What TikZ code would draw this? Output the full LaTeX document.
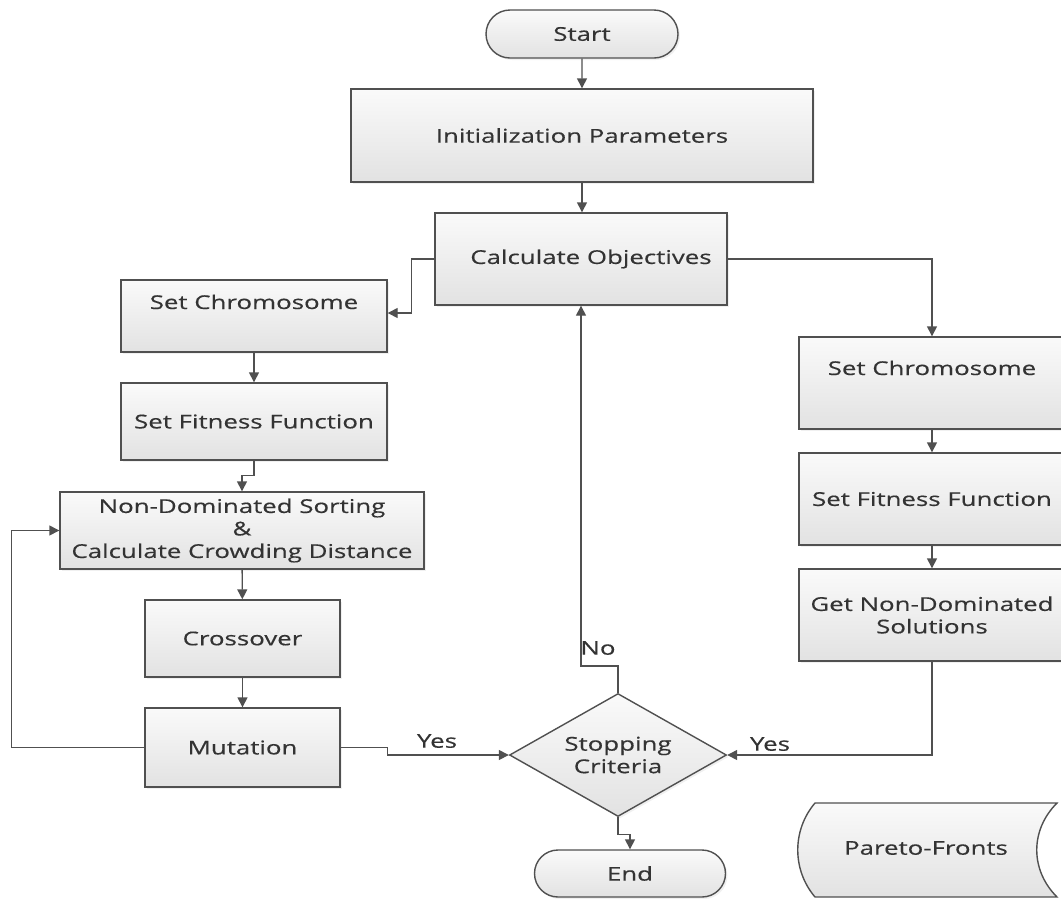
\documentclass[tikz,border=0pt]{standalone}
\usepackage{fontspec}
\setmainfont{Open Sans}
\newfontfamily\diafont[FakeStretch=1.36,FakeBold=0.4]{Open Sans}
\usetikzlibrary{shapes.geometric,shapes.misc,arrows.meta,shadows}
\definecolor{lc}{HTML}{505050}
\definecolor{tc}{HTML}{333333}
\definecolor{ftop}{HTML}{FAFAFA}
\definecolor{fbot}{HTML}{E2E2E2}
\tikzset{
  base/.style={draw=lc, line width=1.4pt, top color=ftop, bottom color=fbot,
    text=tc, font=\diafont\fontsize{19}{22.5}\selectfont, align=center, inner sep=2pt,
    drop shadow={opacity=0.12, shadow xshift=2pt, shadow yshift=-2pt}},
  box/.style={base, rectangle, minimum width=#1},
  term/.style={base, rounded rectangle, minimum width=#1},
  dec/.style={base, diamond, inner sep=0pt, aspect=1.76},
  arr/.style={draw=lc, line width=1.4pt, -{Triangle[length=10pt,width=10pt]}},
  lbl/.style={text=tc, font=\diafont\fontsize{19}{22.5}\selectfont, inner sep=1pt}
}
\begin{document}
\begin{tikzpicture}[x=1pt,y=-1pt]
\useasboundingbox (0,0) rectangle (1061,898);
% main column
\node[term=196, minimum height=48] (start) at (582,34) {Start};
\node[box=462, minimum height=93] (init) at (582,135.5) {Initialization Parameters};
\node[box=292, minimum height=92] (calc) at (581,259) {\hspace*{20pt}Calculate Objectives};
% left column
\node[box=266, minimum height=72, text height=14pt, text depth=28pt] (chromL) at (254,316) {Set Chromosome};
\node[box=266, minimum height=77] (fitL) at (254,421.5) {Set Fitness Function};
\node[box=364, minimum height=77] (nds) at (242,530.5) {Non-Dominated Sorting\\\&\\Calculate Crowding Distance};
\node[box=195, minimum height=77] (cross) at (242.5,638.5) {Crossover};
\node[box=195, minimum height=79] (mut) at (242.5,747.5) {Mutation};
% decision and end
\node[dec, minimum width=217, minimum height=123] (dia) at (618,755) {Stopping\\Criteria};
\node[term=195, minimum height=47] (end) at (630,873.5) {End};
% right column
\node[box=266, minimum height=92, text height=14pt, text depth=30pt] (chromR) at (932,383) {Set Chromosome};
\node[box=266, minimum height=92] (fitR) at (932,499) {Set Fitness Function};
\node[box=266, minimum height=92] (getnd) at (932,615) {Get Non-Dominated\\Solutions};
% Pareto fronts (stored data)
\path[draw=lc, line width=1.4pt, top color=ftop, bottom color=fbot]
  (815,803) -- (1057,803) .. controls (1030,830) and (1030,870) .. (1057,897)
  -- (815,897) .. controls (792,870) and (792,830) .. (815,803) -- cycle;
\node[lbl] (pareto) at (926,848) {Pareto-Fronts};
% connectors
\draw[arr] (start) -- (init);
\draw[arr] (init.south) -- (init.south |- calc.north);
\draw[arr] (calc.west) -- ++(-23,0) |- ([yshift=3pt]chromL.east);
\draw[arr] (calc.east) -| (chromR.north);
\draw[arr] (chromL) -- (fitL);
\draw[arr] (fitL.south) -- ++(0,15) -| (nds.north);
\draw[arr] (nds) -- (cross);
\draw[arr] (cross) -- (mut);
\draw[arr] (mut.west) -- ++(-133,0) |- (nds.west);
\draw[arr] (mut.east) -- ++(47,0) |- (dia.west);
\draw[arr] (chromR) -- (fitR);
\draw[arr] (fitR) -- (getnd);
\draw[arr] (getnd.south) |- (dia.east);
\draw[arr] (dia.north) -- ++(0,-27) -| (calc.south);
\draw[arr] (dia.south) -- ++(0,17) -| (end.north);
% labels
\node[lbl] (yesL) at (437,741) {Yes};
\node[lbl] (yesR) at (770,744) {Yes};
\node[lbl] (no) at (598,648) {No};
\end{tikzpicture}
\end{document}
